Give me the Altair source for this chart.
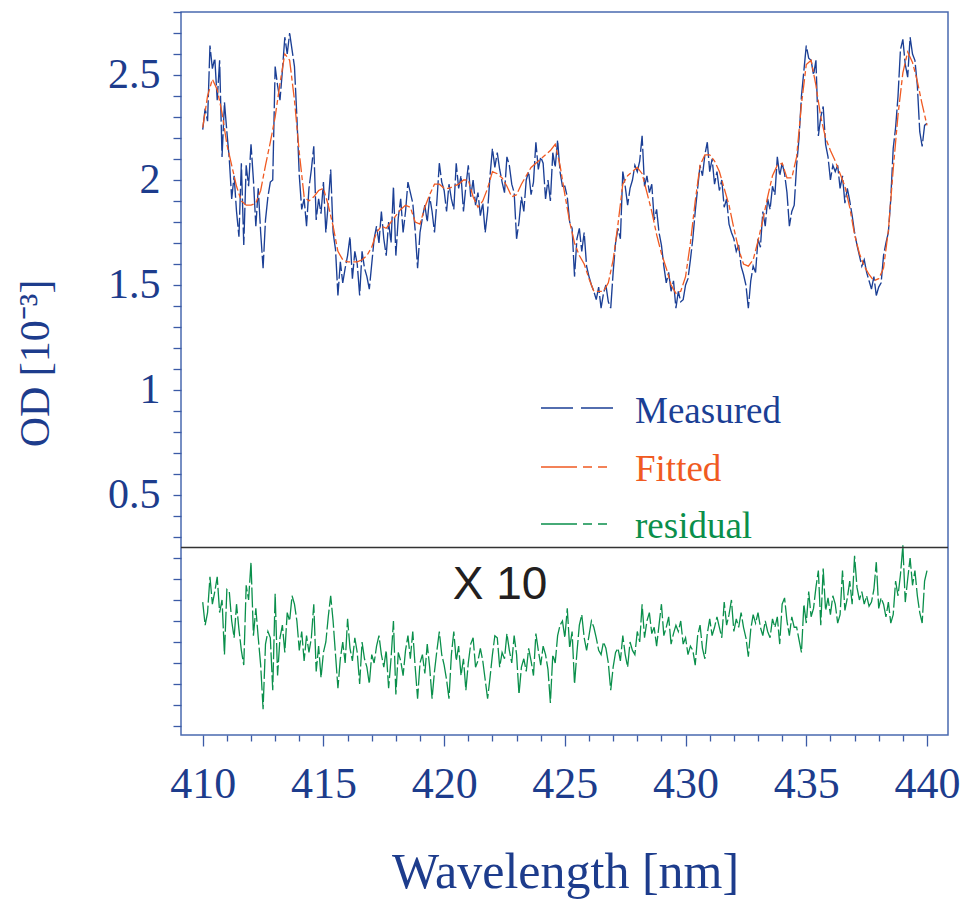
import json
import altair as alt
import numpy as np
import pandas as pd

# ---------------- data ----------------
# measured optical density (10^-3), 410.0 .. 440.0 nm every 0.1 nm (one row per nm)
MEASURED = [
    2.24, 2.34, 2.28, 2.64, 2.53, 2.58, 2.38, 2.57, 2.11, 2.37,
    2.23, 2.10, 1.91, 2.02, 1.85, 1.73, 2.08, 1.69, 2.07, 1.97,
    2.17, 2.00, 1.78, 1.96, 1.75, 1.58, 1.81, 1.92, 1.99, 2.00,
    2.54, 2.45, 2.38, 2.52, 2.68, 2.60, 2.70, 2.62, 2.54, 2.30,
    2.02, 1.86, 1.91, 1.78, 1.96, 2.05, 2.16, 1.81, 1.91, 1.84,
    1.99, 1.75, 1.89, 2.05, 1.75, 1.67, 1.45, 1.61, 1.51, 1.58,
    1.64, 1.73, 1.53, 1.66, 1.60, 1.45, 1.66, 1.58, 1.54, 1.48,
    1.60, 1.72, 1.78, 1.70, 1.85, 1.72, 1.64, 1.80, 1.70, 1.97,
    1.64, 1.82, 1.91, 1.75, 1.85, 1.99, 1.94, 1.89, 1.76, 1.58,
    1.75, 1.82, 1.88, 1.80, 1.92, 1.85, 1.75, 1.90, 2.08, 1.99,
    1.95, 1.85, 1.98, 1.91, 1.86, 2.08, 1.96, 2.02, 1.85, 1.97,
    2.07, 1.92, 2.00, 1.88, 1.94, 1.83, 1.89, 1.75, 1.85, 2.02,
    2.15, 2.06, 2.13, 2.05, 1.99, 1.94, 2.11, 2.07, 1.98, 1.94,
    1.72, 1.80, 1.92, 1.85, 2.00, 2.04, 1.93, 1.99, 2.18, 2.05,
    2.11, 2.08, 1.91, 2.00, 1.90, 2.13, 2.06, 2.19, 2.04, 1.97,
    1.97, 1.92, 1.80, 1.77, 1.54, 1.72, 1.77, 1.66, 1.75, 1.59,
    1.54, 1.50, 1.47, 1.43, 1.49, 1.39, 1.46, 1.50, 1.42, 1.39,
    1.56, 1.70, 1.77, 1.72, 2.04, 1.97, 1.88, 1.96, 2.00, 2.07,
    2.04, 2.09, 2.21, 1.97, 2.02, 1.94, 1.98, 1.81, 1.86, 1.75,
    1.69, 1.59, 1.51, 1.56, 1.47, 1.52, 1.39, 1.47, 1.42, 1.43,
    1.50, 1.53, 1.62, 1.72, 1.85, 1.96, 2.07, 2.02, 2.12, 2.18,
    2.04, 2.10, 1.98, 2.04, 1.95, 2.00, 1.87, 1.91, 1.79, 1.75,
    1.72, 1.66, 1.69, 1.59, 1.55, 1.50, 1.39, 1.52, 1.59, 1.56,
    1.72, 1.68, 1.85, 1.78, 1.91, 1.86, 1.97, 1.93, 2.11, 2.02,
    2.08, 2.03, 1.94, 1.78, 1.85, 1.88, 2.07, 2.20, 2.40, 2.52,
    2.64, 2.58, 2.57, 2.50, 2.57, 2.21, 2.30, 2.35, 2.17, 2.11,
    2.00, 2.07, 2.04, 2.07, 1.96, 2.02, 1.89, 1.96, 1.90, 1.83,
    1.75, 1.69, 1.64, 1.59, 1.62, 1.56, 1.52, 1.48, 1.54, 1.45,
    1.49, 1.51, 1.64, 1.70, 1.75, 1.91, 2.15, 2.25, 2.40, 2.62,
    2.67, 2.55, 2.49, 2.68, 2.60, 2.57, 2.45, 2.23, 2.16, 2.26,
    2.27,
]

# fitted optical density, 410.0 .. 440.0 nm every 0.2 nm (one row per nm)
FITTED = [
    2.25, 2.40, 2.48, 2.43, 2.32,
    2.17, 2.07, 1.97, 1.90, 1.88,
    1.88, 1.89, 1.95, 2.07, 2.18,
    2.30, 2.46, 2.60, 2.57, 2.38,
    2.13, 1.92, 1.90, 1.92, 1.95,
    1.96, 1.88, 1.78, 1.66, 1.62,
    1.61, 1.61, 1.61, 1.62, 1.64,
    1.68, 1.75, 1.78, 1.77, 1.80,
    1.83, 1.86, 1.88, 1.87, 1.80,
    1.79, 1.87, 1.93, 1.98, 1.98,
    1.96, 1.96, 1.97, 1.98, 2.00,
    2.00, 1.92, 1.87, 1.90, 1.96,
    2.04, 2.03, 2.01, 1.97, 1.92,
    1.93, 1.98, 2.02, 2.06, 2.08,
    2.10, 2.12, 2.14, 2.17, 2.07,
    1.93, 1.80, 1.70, 1.64, 1.60,
    1.53, 1.47, 1.47, 1.47, 1.51,
    1.62, 1.79, 1.98, 2.02, 2.04,
    2.06, 2.03, 1.94, 1.85, 1.74,
    1.65, 1.58, 1.50, 1.46, 1.47,
    1.54, 1.70, 1.90, 2.07, 2.12,
    2.12, 2.09, 2.04, 1.96, 1.88,
    1.77, 1.67, 1.60, 1.59, 1.62,
    1.71, 1.81, 1.92, 2.02, 2.07,
    2.08, 2.01, 2.01, 2.11, 2.36,
    2.55, 2.57, 2.45, 2.30, 2.20,
    2.14, 2.09, 2.03, 1.97, 1.87,
    1.74, 1.65, 1.59, 1.55, 1.52,
    1.53, 1.58, 1.76, 2.05, 2.31,
    2.51, 2.61, 2.56, 2.47, 2.36,
    2.26,
]

# residual (magnified x10), 410.0 .. 440.0 nm every 0.1 nm (one row per nm)
RESIDUAL = [
    0.19, 0.08, 0.14, 0.31, 0.18, 0.24, 0.31, 0.14, 0.20, -0.06,
    0.25, 0.24, 0.10, 0.02, 0.18, 0.06, -0.04, -0.11, 0.27, 0.20,
    0.38, 0.03, 0.16, 0.02, -0.11, -0.32, -0.01, 0.05, 0.02, -0.23,
    0.23, -0.16, 0.02, 0.08, -0.05, 0.14, 0.10, 0.22, 0.18, 0.10,
    -0.04, 0.05, -0.09, 0.03, -0.05, 0.02, 0.18, -0.14, -0.02, -0.17,
    -0.05, 0.00, 0.12, 0.22, 0.10, -0.06, -0.22, -0.08, 0.00, -0.10,
    0.11, -0.03, -0.09, 0.02, -0.05, -0.20, 0.00, -0.08, -0.12, -0.20,
    -0.06, -0.10, -0.02, 0.03, -0.06, -0.12, -0.04, -0.22, -0.08, 0.10,
    -0.25, -0.05, -0.09, -0.16, -0.04, 0.03, -0.08, 0.05, -0.12, -0.27,
    -0.10, -0.06, -0.15, -0.01, -0.12, -0.27, -0.14, -0.04, 0.05, -0.06,
    -0.11, -0.18, -0.27, -0.06, 0.05, -0.09, -0.02, -0.16, -0.08, -0.23,
    -0.10, -0.01, 0.02, -0.12, -0.09, -0.03, -0.09, -0.18, -0.27, -0.17,
    -0.06, 0.03, 0.02, -0.12, -0.05, -0.08, 0.04, -0.04, -0.10, 0.03,
    -0.06, -0.25, -0.12, -0.08, -0.14, -0.03, -0.09, -0.16, 0.04, -0.04,
    -0.11, -0.02, -0.06, -0.13, -0.29, -0.06, -0.10, 0.03, 0.08, 0.10,
    0.02, 0.16, -0.03, 0.05, -0.20, -0.05, 0.08, 0.13, 0.02, -0.04,
    0.03, 0.10, 0.07, 0.02, -0.04, -0.06, 0.00, -0.03, -0.10, -0.23,
    -0.12, -0.05, -0.03, -0.09, 0.03, -0.06, -0.12, 0.00, -0.04, -0.06,
    0.05, 0.00, 0.18, 0.02, 0.10, 0.14, 0.04, 0.07, -0.02, 0.08,
    0.18, 0.03, 0.07, 0.12, -0.01, 0.04, 0.08, 0.05, 0.10, -0.01,
    0.02, -0.06, -0.02, -0.04, -0.11, 0.03, 0.08, -0.03, -0.08, 0.04,
    0.11, 0.03, 0.07, 0.12, 0.07, 0.02, 0.19, 0.08, 0.13, 0.20,
    0.05, 0.11, 0.07, 0.14, 0.07, 0.02, -0.07, 0.06, 0.13, 0.09,
    0.14, 0.07, 0.03, 0.10, 0.05, 0.02, 0.11, 0.07, 0.12, -0.01,
    0.18, 0.21, 0.10, 0.03, 0.12, 0.07, 0.07, 0.01, -0.05, 0.18,
    0.09, 0.24, 0.12, 0.16, 0.26, 0.34, 0.08, 0.35, 0.15, 0.21,
    0.13, 0.22, 0.18, 0.09, 0.13, 0.34, 0.15, 0.21, 0.29, 0.18,
    0.41, 0.26, 0.20, 0.24, 0.18, 0.22, 0.17, 0.19, 0.25, 0.38,
    0.16, 0.21, 0.18, 0.12, 0.19, 0.09, 0.13, 0.29, 0.22, 0.32,
    0.46, 0.19, 0.30, 0.40, 0.27, 0.34, 0.22, 0.14, 0.09, 0.29,
    0.34,
]

SERIES = ["Measured", "Fitted", "residual"]
COLORS = ["#1b3f95", "#f05a22", "#0a8f4b"]
X_TICKS = list(range(410, 441))
X_LABEL_STEP = 5
Y_LABELS = [0.5, 1.0, 1.5, 2.0, 2.5]
X_TITLE = "Wavelength [nm]"
Y_TITLE = "OD [10\u207b\u00b3]"
MAGNIFY_TEXT = "X 10"

# ---------------- layout / style constants ----------------
X_DOMAIN = [409.1, 440.87]
Y_DOMAIN = [-0.643, 2.8]
RESID_OFFSET = -0.2          # where the magnified residual is drawn
SEPARATOR = 0.25             # line splitting spectrum and residual panes
PLOT_W, PLOT_H = 767, 723
BLUE_TXT = "#1d3c8c"
TICK_BLUE = "#3b5aa6"
FRAME_BLUE = "#4a6ab0"
SERIF = "Liberation Serif"
DASH_LINE = {"Measured": [26, 3], "Fitted": [14, 3, 5, 3], "residual": [20, 3]}
DASH_LEGEND = {"Measured": [32, 8], "Fitted": [36, 6, 9, 6, 9, 6], "residual": [36, 6, 9, 6, 9, 6]}

wl_fine = np.round(np.linspace(410, 440, len(MEASURED)), 1)
wl_fit = np.round(np.linspace(410, 440, len(FITTED)), 1)
assert len(MEASURED) == 301 and len(RESIDUAL) == 301 and len(FITTED) == 151

df_meas = pd.DataFrame({"wl": wl_fine, "od": MEASURED})
df_fit = pd.DataFrame({"wl": wl_fit, "od": FITTED})
df_res = pd.DataFrame({"wl": wl_fine, "resid": RESIDUAL})
df_sep = pd.DataFrame({"od": [SEPARATOR]})

y_ticks = [float(v) for v in np.round(np.arange(-0.6, 2.8001, 0.1), 1)]

x_axis = alt.Axis(
    values=X_TICKS,
    labelExpr=f"datum.value % {X_LABEL_STEP} === 0 ? datum.label : ''",
    tickSize={"condition": {"test": f"datum.value % {X_LABEL_STEP} === 0", "value": 11}, "value": 6},
    tickColor=TICK_BLUE, tickWidth=1.3,
    labelFont=SERIF, labelFontSize=44, labelColor=BLUE_TXT, labelPadding=16,
    labelOverlap=False, labelFlush=False, labelBound=False,
    domain=False, grid=False,
    title=X_TITLE, titleFont=SERIF, titleFontSize=50, titleFontWeight="normal",
    titleColor=BLUE_TXT, titleX=PLOT_W / 2 + 0.5, titleY=152,
    titleAlign="center", titleBaseline="alphabetic",
)
y_axis = alt.Axis(
    values=y_ticks,
    labelExpr=f"indexof({json.dumps(Y_LABELS)}, datum.value) >= 0 ? format(datum.value, '~g') : ''",
    tickSize=8, tickColor=TICK_BLUE, tickWidth=1.3,
    labelFont=SERIF, labelFontSize=42, labelColor=BLUE_TXT, labelPadding=13,
    labelOverlap=False, labelFlush=False, labelBound=False,
    domain=False, grid=False,
    title=Y_TITLE, titleFont=SERIF, titleFontSize=42, titleFontWeight="normal",
    titleColor=BLUE_TXT, titleX=-146, titleY=351, titleAngle=270,
    titleAlign="center", titleBaseline="middle",
)

X = alt.X("wl:Q", scale=alt.Scale(domain=X_DOMAIN, nice=False, zero=False), axis=x_axis)
Y = alt.Y("od:Q", scale=alt.Scale(domain=Y_DOMAIN, nice=False, zero=False), axis=y_axis)

meas = alt.Chart(df_meas).mark_line(
    color=COLORS[0], strokeWidth=1.35, strokeDash=DASH_LINE["Measured"]
).encode(x=X, y=Y)

fit = alt.Chart(df_fit).mark_line(
    color=COLORS[1], strokeWidth=1.3, strokeDash=DASH_LINE["Fitted"]
).encode(x=X, y=Y)

res = alt.Chart(df_res).transform_calculate(
    od=f"datum.resid + ({RESID_OFFSET})"
).mark_line(
    color=COLORS[2], strokeWidth=1.3, strokeDash=DASH_LINE["residual"]
).encode(x=X, y=Y)

sep = alt.Chart(df_sep).mark_rule(color="#333333", strokeWidth=1.3).encode(y=Y)

magnify = alt.Chart(pd.DataFrame({"t": [MAGNIFY_TEXT]})).mark_text(
    text=MAGNIFY_TEXT, font="Liberation Sans", fontSize=46, color="#231f20",
    align="center", baseline="middle",
).encode(x=alt.value(319), y=alt.value(573))

# hand-built legend inside the plot (line sample + coloured label)
legend_layers = []
LEG_LINE_Y = [396, 455, 512]
LEG_TEXT_Y = [411, 469, 526]
for name, col, ly, ty in zip(SERIES, COLORS, LEG_LINE_Y, LEG_TEXT_Y):
    d = pd.DataFrame({"series": [name]})
    legend_layers.append(
        alt.Chart(d).mark_rule(color=col, strokeWidth=1.4, strokeDash=DASH_LEGEND[name]).encode(
            x=alt.value(360), x2=alt.value(432), y=alt.value(ly)
        )
    )
    legend_layers.append(
        alt.Chart(d).mark_text(
            text=name, font=SERIF, fontSize=37, color=col, align="left", baseline="alphabetic"
        ).encode(x=alt.value(454), y=alt.value(ty))
    )

chart = alt.layer(meas, fit, res, sep, magnify, *legend_layers).properties(
    width=PLOT_W, height=PLOT_H,
    autosize=alt.AutoSizeParams(type="none"),
    padding={"left": 181, "top": 12, "right": 12, "bottom": 164},
    background="white",
).configure_view(stroke=FRAME_BLUE, strokeWidth=1.5)

chart.save("out.html", embed_options={"renderer": "svg", "actions": False})
